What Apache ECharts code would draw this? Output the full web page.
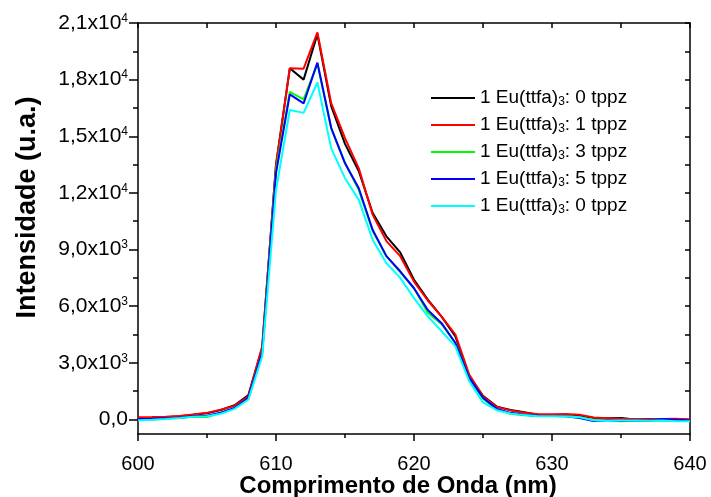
<!DOCTYPE html>
<html><head><meta charset="utf-8">
<script src="https://cdn.jsdelivr.net/npm/echarts@6/dist/echarts.min.js"></script>
<style>html,body{margin:0;padding:0;background:#fff}#c{width:711px;height:497px}</style>
</head><body><div id="c"></div>
<script>
// wavelength (nm)
const wavelength = [600,601,602,603,604,605,606,607,608,609,610,611,612,613,614,615,616,617,618,619,620,
  621,622,623,624,625,626,627,628,629,630,631,632,633,634,635,636,637,638,639,640];
// 1 Eu(ttfa)3: 0 tppz (black)
const black = [50,80,120,170,250,330,500,750,1290,3800,13500,18600,18000,20400,16600,14600,13150,10950,9700,8850,7400,
  6350,5450,4400,2300,1250,680,500,380,250,200,200,180,90,60,80,0,30,-20,20,-20];
// 1 Eu(ttfa)3: 1 tppz (red)
const red = [120,130,150,190,260,350,520,720,1230,3880,13450,18600,18580,20500,16750,14900,13300,10850,9450,8650,7300,
  6300,5450,4500,2380,1230,660,480,350,270,270,290,250,100,70,40,20,10,30,40,0];
// 1 Eu(ttfa)3: 3 tppz (green)
const green = [-30,0,40,80,150,130,350,600,1100,3500,13200,17350,16950,18850,15400,13600,12150,10000,8650,7800,6950,
  5650,5050,4050,2200,1100,520,300,220,180,180,180,120,-30,-60,-90,-60,-80,-60,-80,-80];
// 1 Eu(ttfa)3: 5 tppz (blue)
const blue = [30,40,60,90,170,200,360,610,1150,3550,13050,17220,16740,18900,15450,13570,12250,10050,8650,7850,6950,
  5800,5100,4050,2200,1150,560,350,250,200,180,170,80,-80,-60,-70,-40,-50,20,-20,-50];
// 1 Eu(ttfa)3: 0 tppz (cyan)
const cyan = [-40,-10,30,80,140,170,300,560,1060,3340,12150,16390,16240,17850,14360,12780,11630,9520,8280,7500,6430,
  5460,4670,3870,2030,900,490,320,230,170,170,160,120,-40,-80,-60,-50,-70,-60,-90,-100];

const legendLabels = ['1 Eu(ttfa){sub|3}: 0 tppz','1 Eu(ttfa){sub|3}: 1 tppz','1 Eu(ttfa){sub|3}: 3 tppz','1 Eu(ttfa){sub|3}: 5 tppz','1 Eu(ttfa){sub|3}: 0 tppz'];
const seriesKeys = ['s0','s1','s2','s3','s4'];
const seriesValues = [black, red, green, blue, cyan];
const seriesColors = ['#000000','#ff0000','#00ff00','#0000ff','#00ffff'];

const yMajorTicks = [0,3000,6000,9000,12000,15000,18000,21000];
const yMinorTicks = [1500,4500,7500,10500,13500,16500,19500];
const yAllTicks = [0,1500,3000,4500,6000,7500,9000,10500,12000,13500,15000,16500,18000,19500,21000];

const FONT = 'Liberation Sans';
const Y_MIN = -770, Y_MAX = 21000;

function yLabel(v){
  if (v === 0) return '0,0';
  const e = Math.floor(Math.log10(Math.abs(v)) + 1e-9);
  const m = (v / Math.pow(10, e)).toFixed(1).replace('.', ',');
  return m + 'x10{sup|' + e + '}';
}

const chart = echarts.init(document.getElementById('c'));
const axisLine = {show:true, onZero:false, lineStyle:{color:'#000', width:1.5}};
chart.setOption({
  animation:false,
  backgroundColor:'#fff',
  grid:{left:138, right:21, top:23, bottom:63, containLabel:false, outerBoundsMode:'none'},
  legend:{
    data: seriesKeys, orient:'vertical', left:426, top:81,
    icon:'rect', itemWidth:44, itemHeight:2, itemGap:5,
    formatter: n => legendLabels[seriesKeys.indexOf(n)],
    textStyle:{fontFamily:FONT, fontSize:19, color:'#000', lineHeight:20,
      rich:{sub:{fontFamily:FONT, fontSize:12, color:'#000', verticalAlign:'bottom', padding:[10,0,0,0], lineHeight:12}}}
  },
  xAxis:[
    {type:'value', min:600, max:640, interval:10, position:'bottom',
     axisLine, splitLine:{show:false},
     axisTick:{show:true, inside:false, length:7, lineStyle:{color:'#000', width:1.5}},
     minorTick:{show:true, splitNumber:2, length:4, lineStyle:{color:'#000', width:1.5}},
     axisLabel:{fontFamily:FONT, fontSize:20, color:'#000', margin:20},
     name:'Comprimento de Onda (nm)', nameLocation:'middle', nameGap:40, nameMoveOverlap:false,
     nameTextStyle:{fontFamily:FONT, fontSize:24, fontWeight:'bold', color:'#000', padding:[0,32,0,0]}},
    {type:'value', min:600, max:640, interval:5, position:'top',
     axisLine, splitLine:{show:false},
     axisTick:{show:true, inside:true, length:5, lineStyle:{color:'#000', width:1.5}},
     axisLabel:{show:false}}
  ],
  yAxis:[
    {type:'value', min:Y_MIN, max:Y_MAX, position:'left',
     axisLine, splitLine:{show:false},
     axisTick:{show:true, inside:false, length:9, customValues:yMajorTicks, lineStyle:{color:'#000', width:1.5}},
     axisLabel:{customValues:yMajorTicks, formatter:yLabel, fontFamily:FONT, fontSize:21, color:'#000', margin:10,
       rich:{sup:{fontFamily:FONT, fontSize:12, color:'#000', verticalAlign:'top', padding:[0,0,11,0], lineHeight:12}}},
     name:'Intensidade (u.a.)', nameLocation:'middle', nameGap:97, nameMoveOverlap:false,
     nameTextStyle:{fontFamily:FONT, fontSize:27, fontWeight:'bold', color:'#000', padding:[0,0,0,42]}},
    {type:'value', min:Y_MIN, max:Y_MAX, position:'left',
     axisLine:{show:false}, splitLine:{show:false},
     axisTick:{show:true, inside:false, length:5, customValues:yMinorTicks, lineStyle:{color:'#000', width:1.5}},
     axisLabel:{show:false}},
    {type:'value', min:Y_MIN, max:Y_MAX, position:'right',
     axisLine, splitLine:{show:false},
     axisTick:{show:true, inside:true, length:5, customValues:yAllTicks, lineStyle:{color:'#000', width:1.5}},
     axisLabel:{show:false}}
  ],
  series: seriesKeys.map((k, i) => ({
    name:k, type:'line', xAxisIndex:0, yAxisIndex:0, showSymbol:false, symbol:'none',
    color:seriesColors[i], lineStyle:{width:2, color:seriesColors[i]},
    data: wavelength.map((w, j) => [w, seriesValues[i][j]])
  }))
});
</script></body></html>
